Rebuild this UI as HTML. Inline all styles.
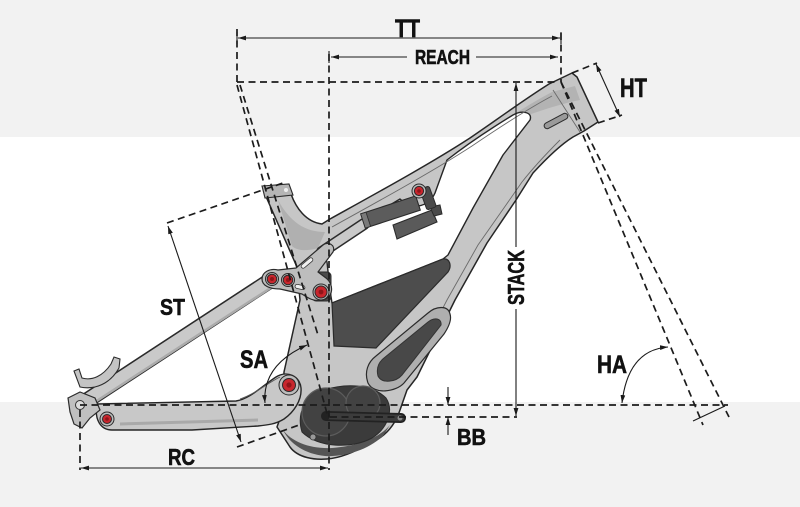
<!DOCTYPE html>
<html>
<head>
<meta charset="utf-8">
<style>
html,body{margin:0;padding:0;background:#fff;}
svg{display:block;}
text{font-family:"Liberation Sans",Arial,sans-serif;font-weight:bold;fill:#111;stroke:#111;stroke-width:0.6;}
</style>
</head>
<body>
<svg width="800" height="507" viewBox="0 0 800 507" xmlns="http://www.w3.org/2000/svg">
<defs>
<marker id="a" viewBox="0 0 10 6" refX="10" refY="3" markerWidth="8" markerHeight="5" orient="auto-start-reverse" markerUnits="userSpaceOnUse">
<path d="M0,0 L10,3 L0,6 z" fill="#1a1a1a"/>
</marker>
</defs>

<!-- background bands -->
<rect x="0" y="0" width="800" height="137" fill="#f2f2f2"/>
<rect x="0" y="137" width="800" height="265" fill="#ffffff"/>
<rect x="0" y="402" width="800" height="105" fill="#f2f2f2"/>

<!-- seat stay -->
<line x1="80" y1="405" x2="271" y2="280" stroke="#2b2b2b" stroke-width="16" stroke-linecap="round"/>
<line x1="80" y1="405" x2="271" y2="280" stroke="#c9c9c9" stroke-width="13" stroke-linecap="round"/>
<line x1="92" y1="404" x2="272" y2="287" stroke="#ababab" stroke-width="2.5"/>

<!-- main frame -->
<path d="M264,192 L291,194 C296,208 306,222 322,224 L330,219 C375,194 430,164 470,138 C495,121 522,101 549,84 L572,73 L577,77 L598,122 L584,131 L573,137 C560,145 545,160 533,173 L516,200 L487,243 L455,300 L417,377 L407,390 L400,410 C395,425 385,437 370,443 C355,452 340,458 327,459 C315,460 298,458 290,447 L277,427 L283,410 L283,395 L284,372 L290,345 L296,318 L300,300 L297,267 Z" fill="#c6c6c6" stroke="#262626" stroke-width="1.5" stroke-linejoin="round"/>

<!-- gusset shading -->
<path d="M278,200 C290,222 305,232 325,232 L318,248 C305,252 296,250 292,246 Z" fill="#b0b0b0"/>
<!-- head tube shading -->
<path d="M470,142 C500,124 525,106 552,92 L575,86 L580,100 C560,104 535,112 510,122 Z" fill="#b3b3b3"/>

<!-- opening between tubes -->
<path d="M319,248 L390,205 L400,199 C404,203 410,206 418,206 C426,205 432,200 435,193 L447,160 C470,142 495,126 513,115 C522,110 533,112 530,120 L503,155 L473,208 L448,255 L443,259 L332,303 L330,290 L327,262 Z" fill="#ffffff" stroke="#262626" stroke-width="1.4" stroke-linejoin="round"/>

<!-- inner contour lines -->
<path d="M332,227 C377,202 432,172 472,146 C497,129 524,111 552,96" fill="none" stroke="#6a6a6a" stroke-width="0.9"/>
<path d="M560,140 C546,154 533,168 522,182 L506,205 L478,245 L447,300 L412,368" fill="none" stroke="#6a6a6a" stroke-width="0.9"/>
<path d="M553,90 L580,132" fill="none" stroke="#6a6a6a" stroke-width="0.9"/>

<!-- cable port -->
<rect x="-13" y="-3" width="26" height="6" rx="3" transform="translate(556,121) rotate(-28)" fill="#9a9a9a" stroke="#2b2b2b" stroke-width="1"/>

<!-- battery -->
<path d="M332,303 L443,259 C450,258 452,266 448,272 L376,348 L334,346 Z" fill="#4d4d4d" stroke="#2b2b2b" stroke-width="1.2"/>

<!-- window -->
<path d="M368,383 C364,372 368,362 376,356 L428,313 C436,306 448,305 450,314 C452,320 448,328 444,334 L404,383 C396,392 374,395 368,383 Z" fill="#afafaf" stroke="#2b2b2b" stroke-width="1.2"/>
<path d="M378,376 C376,368 379,362 384,358 L428,322 C434,317 442,318 441,325 L402,375 C396,382 382,384 378,376 Z" fill="#484848" stroke="#333" stroke-width="1"/>

<!-- motor -->
<path d="M283,430 C290,444 305,454 325,456 C345,457 368,450 383,436 L390,425 C380,437 360,446 332,448 C310,449 292,442 283,430 Z" fill="#555"/>
<path d="M302,432 C296,412 306,396 324,390 C346,383 372,384 386,398 C394,410 388,428 372,438 C352,449 318,448 302,432 Z" fill="#3b3b3b" stroke="#2b2b2b" stroke-width="1"/>
<circle cx="326" cy="412" r="24" fill="#424242" stroke="#5c5c5c" stroke-width="1.2"/>
<circle cx="363" cy="403" r="17" fill="#424242" stroke="#5c5c5c" stroke-width="1.2"/>
<line x1="326" y1="416" x2="401" y2="418" stroke="#222" stroke-width="10" stroke-linecap="round"/>
<line x1="326" y1="416" x2="401" y2="418" stroke="#3c3c3c" stroke-width="6.5" stroke-linecap="round"/>
<circle cx="326" cy="416" r="4" fill="#222"/>
<circle cx="400" cy="418" r="2.5" fill="#888"/>
<circle cx="313" cy="437" r="3" fill="#999" stroke="#333" stroke-width="0.8"/>

<!-- chainstay -->
<path d="M97,404 L236,401 C250,399 262,386 276,377 C287,370 300,376 301,388 C302,400 294,412 284,419 C276,424 268,425 258,426 L192,430 L112,430 C101,430 94,420 97,404 Z" fill="#c8c8c8" stroke="#262626" stroke-width="1.4" stroke-linejoin="round"/>
<path d="M120,424 L258,420" stroke="#a9a9a9" stroke-width="3"/>
<path d="M240,399 C255,394 266,384 280,377" fill="none" stroke="#555" stroke-width="0.9"/>

<!-- dropout -->
<path d="M68,398 L80,392 L95,398 L100,410 L90,418 L82,428 L74,424 L70,412 Z" fill="#c0c0c0" stroke="#2b2b2b" stroke-width="1.2"/>
<circle cx="80" cy="405" r="4.5" fill="#ddd" stroke="#333" stroke-width="1"/>
<path d="M74,371 L79,369 L82,378 C92,381 103,376 111,364 L114,357 L120,359 L119,368 C110,384 95,390 80,387 Z" fill="#c4c4c4" stroke="#2b2b2b" stroke-width="1.1"/>

<!-- seat collar -->
<path d="M262,186 L289,184 L293,195 L265,198 Z" fill="#b5b5b5" stroke="#2b2b2b" stroke-width="1.1"/>
<circle cx="286" cy="190" r="2" fill="#eee"/>

<!-- shock -->
<line x1="322" y1="252" x2="364" y2="224" stroke="#2b2b2b" stroke-width="12" stroke-linecap="round"/>
<line x1="322" y1="252" x2="364" y2="224" stroke="#c9c9c9" stroke-width="9" stroke-linecap="round"/>
<polygon points="393,225 432,210 437,222 397,239" fill="#5a5a5a" stroke="#2b2b2b" stroke-width="1.1"/>
<polygon points="430,207 440,205 442,214 434,216" fill="#4a4a4a" stroke="#2b2b2b" stroke-width="1"/>
<polygon points="360.7,213.9 415.7,195.9 420.3,210.1 365.3,228.1" fill="#5c5c5c" stroke="#2b2b2b" stroke-width="1.1"/>
<polygon points="360.7,213.9 366,212.2 370.6,226.4 365.3,228.1" fill="#7a7a7a" stroke="#2b2b2b" stroke-width="0.8"/>
<rect x="423" y="187" width="10" height="22" rx="2" fill="#4a4a4a" stroke="#2b2b2b" stroke-width="1" transform="rotate(-20 428 198)"/>

<!-- link -->
<rect x="312" y="272" width="19" height="29" rx="4" fill="#4a4a4a" stroke="#2b2b2b" stroke-width="1"/>
<path d="M262,279 C262,272 270,268 278,270 L296,268 L323,245 C328,241 336,245 333,252 L318,272 L326,278 C334,284 334,298 322,300 C314,302 308,298 302,294 L280,289 C270,289 262,286 262,279 Z" fill="#bdbdbd" stroke="#2b2b2b" stroke-width="1.2" stroke-linejoin="round"/>
<rect x="-7" y="-2" width="14" height="4" rx="2" transform="translate(307,263) rotate(-40)" fill="#f0f0f0" stroke="#333" stroke-width="0.8"/>
<rect x="-5" y="-2" width="10" height="4" rx="2" transform="translate(300,287) rotate(12)" fill="#f0f0f0" stroke="#333" stroke-width="0.8"/>

<!-- bolts -->
<g stroke="#2b2b2b" stroke-width="1">
<circle cx="272" cy="279" r="6.5" fill="#b9b9b9"/><circle cx="272" cy="279" r="4.8" fill="#c8262d"/><circle cx="272" cy="279" r="2" fill="#8f1419" stroke="none"/>
<circle cx="288" cy="280" r="6.5" fill="#b9b9b9"/><circle cx="288" cy="280" r="4.8" fill="#c8262d"/><circle cx="288" cy="280" r="2" fill="#8f1419" stroke="none"/>
<circle cx="321" cy="292" r="8" fill="#b9b9b9"/><circle cx="321" cy="292" r="6" fill="#c8262d"/><circle cx="321" cy="292" r="2.4" fill="#8f1419" stroke="none"/>
<circle cx="289" cy="385" r="10" fill="#bcbcbc"/><circle cx="289" cy="385" r="6.5" fill="#c8262d"/><circle cx="289" cy="385" r="2.6" fill="#8f1419" stroke="none"/>
<circle cx="107" cy="419" r="7" fill="#bcbcbc"/><circle cx="107" cy="419" r="4.5" fill="#c8262d"/><circle cx="107" cy="419" r="1.8" fill="#8f1419" stroke="none"/>
<circle cx="419" cy="191" r="7" fill="#bcbcbc"/><circle cx="419" cy="191" r="4.6" fill="#c8262d"/><circle cx="419" cy="191" r="1.8" fill="#8f1419" stroke="none"/>
</g>

<!-- dashed geometry lines -->
<g stroke="#1c1c1c" stroke-width="1.7" stroke-dasharray="7 4.5" fill="none">
<line x1="237" y1="82" x2="557" y2="82"/>
<line x1="237" y1="29" x2="237" y2="82"/>
<line x1="329" y1="54" x2="329" y2="470"/>
<line x1="561" y1="33" x2="561" y2="82"/>
<line x1="237" y1="85" x2="328" y2="417"/>
<line x1="240" y1="85" x2="318" y2="335"/>
<line x1="561" y1="82" x2="703" y2="425"/>
<line x1="561" y1="82" x2="729" y2="417"/>
<line x1="80" y1="405" x2="728" y2="405"/>
<line x1="330" y1="417" x2="517" y2="417"/>
<line x1="167" y1="223" x2="283" y2="183"/>
<line x1="237" y1="447" x2="302" y2="424"/>
<line x1="572" y1="73" x2="597" y2="63"/>
<line x1="598" y1="123" x2="622" y2="115"/>
<line x1="80" y1="410" x2="80" y2="470"/>
</g>

<!-- dimension lines -->
<g stroke="#1a1a1a" stroke-width="1.1" fill="none">
<line x1="238" y1="38" x2="560" y2="38" marker-start="url(#a)" marker-end="url(#a)"/>
<line x1="407" y1="57" x2="331" y2="57" marker-end="url(#a)"/>
<line x1="476" y1="57" x2="558" y2="57" marker-end="url(#a)"/>
<line x1="516" y1="247" x2="516" y2="83" marker-end="url(#a)"/>
<line x1="516" y1="309" x2="516" y2="416" marker-end="url(#a)"/>
<line x1="448" y1="387" x2="448" y2="405" marker-end="url(#a)"/>
<line x1="448" y1="435" x2="448" y2="417" marker-end="url(#a)"/>
<line x1="81" y1="468" x2="328" y2="468" marker-start="url(#a)" marker-end="url(#a)"/>
<line x1="168" y1="226" x2="241" y2="442" marker-start="url(#a)" marker-end="url(#a)"/>
<line x1="596" y1="64" x2="620" y2="117" marker-start="url(#a)" marker-end="url(#a)"/>
<path d="M265,403 Q262,365 307,345" marker-start="url(#a)" marker-end="url(#a)"/>
<path d="M622,403 Q628,350 668,347" marker-start="url(#a)" marker-end="url(#a)"/>
<line x1="693" y1="421" x2="725" y2="406"/>
<line x1="237" y1="32" x2="237" y2="44"/>
<line x1="561" y1="32" x2="561" y2="44"/>
<line x1="329" y1="51" x2="329" y2="63"/>
</g>

<!-- labels -->
<text x="395" y="37" font-size="25" textLength="25" lengthAdjust="spacingAndGlyphs">TT</text>
<text x="415" y="64" font-size="20" textLength="55" lengthAdjust="spacingAndGlyphs">REACH</text>
<text x="620" y="97" font-size="26.5" textLength="27" lengthAdjust="spacingAndGlyphs">HT</text>
<text x="160" y="315" font-size="23.5" textLength="25" lengthAdjust="spacingAndGlyphs">ST</text>
<text x="240" y="368" font-size="25" textLength="28" lengthAdjust="spacingAndGlyphs">SA</text>
<text x="168" y="465" font-size="23.5" textLength="27" lengthAdjust="spacingAndGlyphs">RC</text>
<text x="457" y="445" font-size="23.5" textLength="29" lengthAdjust="spacingAndGlyphs">BB</text>
<text x="597" y="373" font-size="25" textLength="30" lengthAdjust="spacingAndGlyphs">HA</text>
<text transform="translate(524,305) rotate(-90)" x="0" y="0" font-size="23" textLength="55" lengthAdjust="spacingAndGlyphs">STACK</text>
</svg>
</body>
</html>
